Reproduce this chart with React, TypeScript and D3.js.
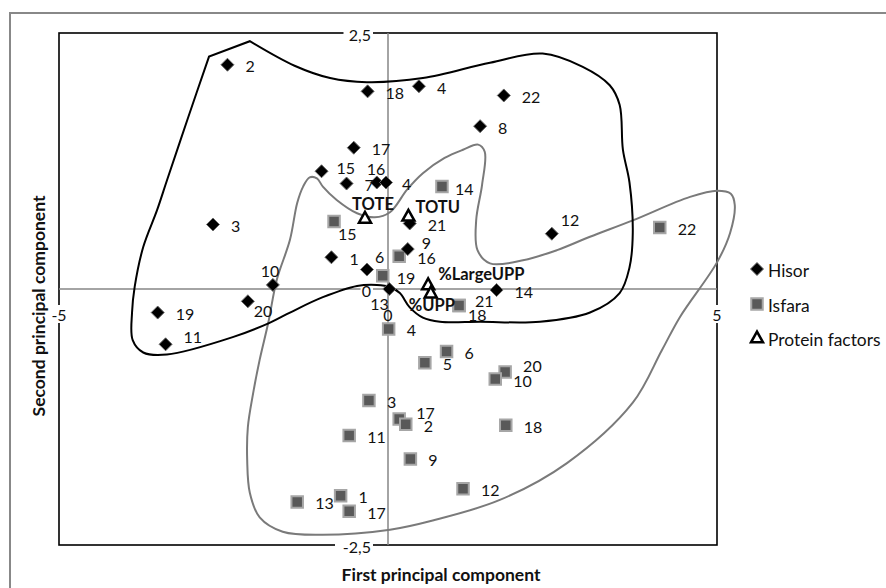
import * as d3 from "d3";

// Hisor samples (black diamonds)
const hisorIds = ["2", "18", "4", "22", "8", "17", "15", "16", "7", "4", "3", "21", "9", "1", "6", "10", "20", "19", "11", "13", "14", "12"];
const hisorPc1 = [-2.44, -0.31, 0.47, 1.76, 1.4, -0.52, -1.01, -0.17, -0.63, -0.03, -2.66, 0.33, 0.3, -0.86, -0.32, -1.75, -2.13, -3.5, -3.38, 0.02, 1.65, 2.49];
const hisorPc2 = [2.19, 1.93, 1.98, 1.89, 1.59, 1.38, 1.15, 1.04, 1.03, 1.04, 0.63, 0.64, 0.39, 0.31, 0.19, 0.04, -0.12, -0.23, -0.54, 0.0, -0.01, 0.54];

// Isfara samples (grey squares)
const isfaraIds = ["14", "15", "16", "19", "21", "18", "4", "6", "5", "20", "10", "18", "9", "12", "3", "17", "2", "11", "13", "1", "17", "22"];
const isfaraPc1 = [0.82, -0.82, 0.17, -0.08, 1.08, 1.08, 0.01, 0.89, 0.56, 1.78, 1.63, 1.79, 0.34, 1.14, -0.29, 0.17, 0.27, -0.59, -1.38, -0.72, -0.59, 4.13];
const isfaraPc2 = [1.0, 0.66, 0.32, 0.13, -0.16, -0.16, -0.39, -0.61, -0.72, -0.81, -0.88, -1.33, -1.66, -1.95, -1.09, -1.27, -1.32, -1.43, -2.08, -2.02, -2.17, 0.6];

// Protein factors (open triangles)
const factorNames = ["TOTE", "TOTU", "%LargeUPP", "%UPP"];
const factorPc1 = [-0.35, 0.31, 0.61, 0.65];
const factorPc2 = [0.69, 0.71, 0.04, -0.04];

const xTicks = [-5, 0, 5];
const yTicks = [-2.5, 0, 2.5];

// hand-drawn group outlines, in component units
// Hisor: smooth from the top peak clockwise to the top-left corner, closed by a straight edge
const hisorHull: [number, number][] = [
  [-2.1, 2.42], [-1.42, 2.18], [-0.88, 2.06], [-0.32, 2.02], [0.53, 2.06], [1.55, 2.21],
  [2.35, 2.3], [2.96, 2.17], [3.37, 1.99], [3.52, 1.8], [3.57, 1.36], [3.67, 1.04], [3.72, 0.55], [3.67, 0.21],
  [3.52, -0.04], [3.07, -0.23], [2.31, -0.32], [1.4, -0.32], [0.79, -0.32], [0.53, -0.28], [0.33, -0.18],
  [0.18, -0.04], [0.03, 0.02], [-0.17, 0.04], [-0.47, 0.03], [-0.99, -0.08], [-1.49, -0.23], [-1.8, -0.33],
  [-2.36, -0.47], [-3.36, -0.64], [-3.72, -0.62], [-3.88, -0.5], [-3.89, -0.23], [-3.85, 0.02], [-3.72, 0.41],
  [-3.51, 0.77], [-3.36, 1.06], [-3.04, 1.67], [-2.72, 2.27],
];
const isfaraHull: [number, number][] = [
  [-1.29, 1.0], [-1.19, 1.09], [-1.08, 1.08], [-0.99, 1.0], [-0.78, 0.87], [-0.47, 0.74], [-0.2, 0.7],
  [0.03, 0.75], [0.29, 0.97], [0.53, 1.13], [0.86, 1.28], [1.14, 1.36], [1.37, 1.41], [1.47, 1.34],
  [1.43, 1.02], [1.34, 0.67], [1.36, 0.38], [1.55, 0.25], [2.05, 0.28], [2.57, 0.38], [3.07, 0.51],
  [3.72, 0.67], [4.59, 0.9], [5.0, 0.96], [5.21, 0.93], [5.27, 0.82], [5.2, 0.55], [5.0, 0.26],
  [4.44, -0.27], [4.16, -0.6], [3.72, -1.11], [2.72, -1.7], [1.7, -2.06], [0.68, -2.26], [0.03, -2.35],
  [-0.99, -2.4], [-1.6, -2.37], [-1.95, -2.23], [-2.1, -1.99], [-2.14, -1.67], [-2.13, -1.35],
  [-2.05, -1.02], [-1.95, -0.69], [-1.82, -0.33], [-1.69, 0.09], [-1.49, 0.48], [-1.38, 0.84],
];

// label nudges (px) where the default "right" placement was moved
const LABEL_DEFAULT: [number, number] = [18, 1];
const hisorLabelNudge: Record<number, [number, number]> = {
  6: [15, -4], 7: [-10, -14], 9: [16, 1], 12: [14, -7], 14: [8, -13], 15: [-12, -14],
  16: [6, 9], 18: [18, -8], 19: [-19, 14], 21: [9, -14],
};
const isfaraLabelNudge: Record<number, [number, number]> = {
  0: [13, 2], 1: [4, 12], 3: [14, 2], 4: [16, -5], 5: [9, 9], 9: [18, -6], 15: [17, -7],
};
const factorLabelNudge: { dx: number; dy: number; anchor: string }[] = [
  { dx: 8, dy: -14, anchor: "middle" },
  { dx: 7, dy: -9, anchor: "start" },
  { dx: 10, dy: -11, anchor: "start" },
  { dx: 1, dy: 12, anchor: "middle" },
];

const FONT = "Lato, 'Open Sans', sans-serif";
const TEXT = "#111";

const diamond = (r: number) => `M0,${-r}L${r},0L0,${r}L${-r},0Z`;
const square = (s: number) => `M${-s / 2},${-s / 2}h${s}v${s}h${-s}Z`;
const triangle = (w: number) => {
  const h = w * 0.9;
  return `M0,${-h * 0.6}L${w / 2},${h * 0.4}L${-w / 2},${h * 0.4}Z`;
};

export default function App() {
  const W = 886;
  const H = 588;
  const x = d3.scaleLinear().domain([-5, 5]).range([59, 717]);
  const y = d3.scaleLinear().domain([-2.5, 2.5]).range([545, 33]);
  const smoothClosed = d3
    .line<[number, number]>()
    .x((d) => x(d[0]))
    .y((d) => y(d[1]))
    .curve(d3.curveCatmullRomClosed.alpha(0.5));
  const smoothOpen = d3
    .line<[number, number]>()
    .x((d) => x(d[0]))
    .y((d) => y(d[1]))
    .curve(d3.curveCatmullRom.alpha(0.5));

  const Diamond = ({ cx, cy }: { cx: number; cy: number }) => (
    <path d={diamond(6.5)} transform={`translate(${cx},${cy})`} fill="#000" stroke="#6b6b6b" strokeWidth={1} />
  );
  const Square = ({ cx, cy }: { cx: number; cy: number }) => (
    <path d={square(11.5)} transform={`translate(${cx},${cy})`} fill="#595959" stroke="#a6a6a6" strokeWidth={2} />
  );
  const Tri = ({ cx, cy }: { cx: number; cy: number }) => (
    <path d={triangle(12)} transform={`translate(${cx},${cy})`} fill="#fff" stroke="#000" strokeWidth={2.5} strokeLinejoin="miter" />
  );

  return (
    <svg
      width={W}
      height={H}
      style={{ position: "absolute", left: 0, top: 0, background: "#fff" }}
      fontFamily={FONT}
    >
      {/* chart area frame (cropped on the right/bottom) */}
      <rect x={10} y={13} width={W + 20} height={H + 20} fill="#fff" stroke="#888" strokeWidth={2} />

      {/* plot area */}
      <rect x={x(-5)} y={y(2.5)} width={x(5) - x(-5)} height={y(-2.5) - y(2.5)} fill="#fff" stroke="#000" strokeWidth={1.6} />

      {/* axes through the origin */}
      <line x1={x(-5)} x2={x(5)} y1={y(0)} y2={y(0)} stroke="#868686" strokeWidth={1.5} />
      <line x1={x(0)} x2={x(0)} y1={y(2.5)} y2={y(-2.5)} stroke="#868686" strokeWidth={1.5} />

      {/* tick labels */}
      {xTicks.map((t) => (
        <g key={`xt${t}`}>
          {t !== 0 && <rect x={x(t) - 10} y={y(0) + 16} width={20} height={18} fill="#fff" />}
          <text x={x(t)} y={y(0) + 25} textAnchor="middle" dominantBaseline="central" fontSize={16} fill={TEXT}>
            {t}
          </text>
        </g>
      ))}
      {yTicks.map((t) => {
        const label = String(t).replace(".", ",");
        return (
          <g key={`yt${t}`}>
            <rect x={x(0) - 19 - label.length * 8.5} y={y(t) - 9} width={label.length * 8.5 + 4} height={18} fill="#fff" />
            <text x={x(0) - 17} y={y(t) + 1} textAnchor="end" dominantBaseline="central" fontSize={16} fill={TEXT}>
              {label}
            </text>
          </g>
        );
      })}

      {/* group outlines */}
      <path d={smoothClosed(isfaraHull) ?? ""} fill="none" stroke="#7a7a7a" strokeWidth={2} />
      <path d={(smoothOpen(hisorHull) ?? "") + "Z"} fill="none" stroke="#000" strokeWidth={2} strokeLinejoin="miter" />

      {/* Isfara */}
      {isfaraIds.map((id, i) => {
        const cx = x(isfaraPc1[i]);
        const cy = y(isfaraPc2[i]);
        const [dx, dy] = isfaraLabelNudge[i] ?? LABEL_DEFAULT;
        return (
          <g key={`i${i}`}>
            <Square cx={cx} cy={cy} />
            <text x={cx + dx} y={cy + dy} dominantBaseline="central" fontSize={16} fill={TEXT}>
              {id}
            </text>
          </g>
        );
      })}

      {/* Hisor */}
      {hisorIds.map((id, i) => {
        const cx = x(hisorPc1[i]);
        const cy = y(hisorPc2[i]);
        const [dx, dy] = hisorLabelNudge[i] ?? LABEL_DEFAULT;
        return (
          <g key={`h${i}`}>
            <Diamond cx={cx} cy={cy} />
            <text x={cx + dx} y={cy + dy} dominantBaseline="central" fontSize={16} fill={TEXT}>
              {id}
            </text>
          </g>
        );
      })}

      {/* Protein factors */}
      {factorNames.map((name, i) => {
        const cx = x(factorPc1[i]);
        const cy = y(factorPc2[i]);
        const n = factorLabelNudge[i];
        return (
          <g key={`f${i}`}>
            <Tri cx={cx} cy={cy} />
            <text
              x={cx + n.dx}
              y={cy + n.dy}
              textAnchor={n.anchor}
              dominantBaseline="central"
              fontSize={16.5}
              fontWeight="bold"
              fill={TEXT}
            >
              {name}
            </text>
          </g>
        );
      })}

      {/* axis titles */}
      <text x={441} y={574} textAnchor="middle" dominantBaseline="central" fontSize={17.5} fontWeight="bold" fill={TEXT}>
        First principal component
      </text>
      <text
        transform="translate(38,306) rotate(-90)"
        textAnchor="middle"
        dominantBaseline="central"
        fontSize={17.5}
        fontWeight="bold"
        fill={TEXT}
      >
        Second principal component
      </text>

      {/* legend */}
      <g transform="translate(757,269)">
        <Diamond cx={0} cy={0} />
        <text x={11} y={1} dominantBaseline="central" fontSize={17.4} fill={TEXT}>
          Hisor
        </text>
      </g>
      <g transform="translate(757,304)">
        <Square cx={0} cy={0} />
        <text x={11} y={1} dominantBaseline="central" fontSize={17.4} fill={TEXT}>
          Isfara
        </text>
      </g>
      <g transform="translate(757,338)">
        <Tri cx={0} cy={0} />
        <text x={11} y={1} dominantBaseline="central" fontSize={17.4} fill={TEXT}>
          Protein factors
        </text>
      </g>
    </svg>
  );
}
